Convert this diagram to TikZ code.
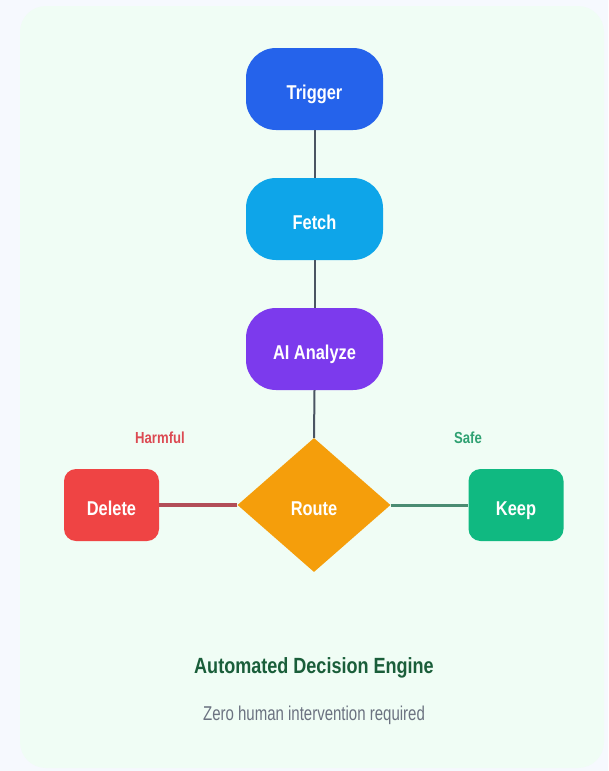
\documentclass[tikz,border=0pt]{standalone}
\usepackage{fontspec}
\setmainfont{Liberation Sans}[FakeStretch=0.82]
\newfontfamily\subfont{Liberation Sans}[FakeStretch=0.75]
\usetikzlibrary{shapes.geometric}
\definecolor{outerbg}{HTML}{F6F9FE}
\definecolor{panelbg}{HTML}{F0FDF5}
\definecolor{cTrig}{HTML}{2563EB}
\definecolor{cFetch}{HTML}{0EA5E9}
\definecolor{cAI}{HTML}{7C3AED}
\definecolor{cRoute}{HTML}{F59E0B}
\definecolor{cDel}{HTML}{EF4444}
\definecolor{cKeep}{HTML}{10B981}
\definecolor{cLine}{HTML}{4B5563}
\definecolor{cLineR}{HTML}{B24E58}
\definecolor{cLineG}{HTML}{4A8C72}
\definecolor{cHarm}{HTML}{DC4A52}
\definecolor{cSafe}{HTML}{2FA172}
\definecolor{cTitle}{HTML}{1A5E3A}
\definecolor{cSub}{HTML}{6B7280}
\tikzset{
  nodefont/.style={text=white, font=\bfseries\fontsize{20}{22}\selectfont, text height=20pt, text depth=0pt},
  pill/.style={nodefont, rounded corners=30pt, minimum width=137pt, minimum height=82pt, inner sep=0pt},
  sbox/.style={nodefont, rounded corners=12pt, minimum width=95pt, minimum height=72pt, inner sep=0pt},
  conn/.style={draw=cLine, line width=2pt},
  lbl/.style={font=\bfseries\fontsize{16}{18}\selectfont}
}
\begin{document}
\begin{tikzpicture}[x=1pt,y=-1pt]
\useasboundingbox (0,0) rectangle (608,771);
\fill[outerbg] (0,0) rectangle (608,771);
\fill[panelbg, rounded corners=26pt] (20,6) rectangle (604,768);
\node[pill, fill=cTrig] (trig) at (314.5,89) {Trigger};
\node[pill, fill=cFetch] (fetch) at (314.5,219) {Fetch};
\node[pill, fill=cAI] (ai) at (314.5,349) {AI Analyze};
\node[nodefont, diamond, fill=cRoute, minimum width=153pt, minimum height=134pt, inner sep=0pt, aspect=1.14] (route) at (314,505) {Route};
\node[sbox, fill=cDel] (del) at (111.5,505) {Delete};
\node[sbox, fill=cKeep] (keep) at (516,505) {Keep};
\draw[conn] (trig.south) -- (fetch.north);
\draw[conn] (fetch.south) -- (ai.north);
\draw[conn] (ai.south) -- (route.north);
\draw[draw=cLineR, line width=3.5pt] (route.west) -- (del.east);
\draw[draw=cLineG, line width=3pt] (route.east) -- (keep.west);
\node[lbl, text=cHarm] (harm) at (160,438) {Harmful};
\node[lbl, text=cSafe] (safe) at (468,438) {Safe};
\node[font=\bfseries\fontsize{22}{24}\selectfont, text=cTitle] (title) at (314,668) {Automated Decision Engine};
\node[font=\subfont\fontsize{20}{22}\selectfont, text=cSub] (sub) at (314,715) {Zero human intervention required};
\end{tikzpicture}
\end{document}
